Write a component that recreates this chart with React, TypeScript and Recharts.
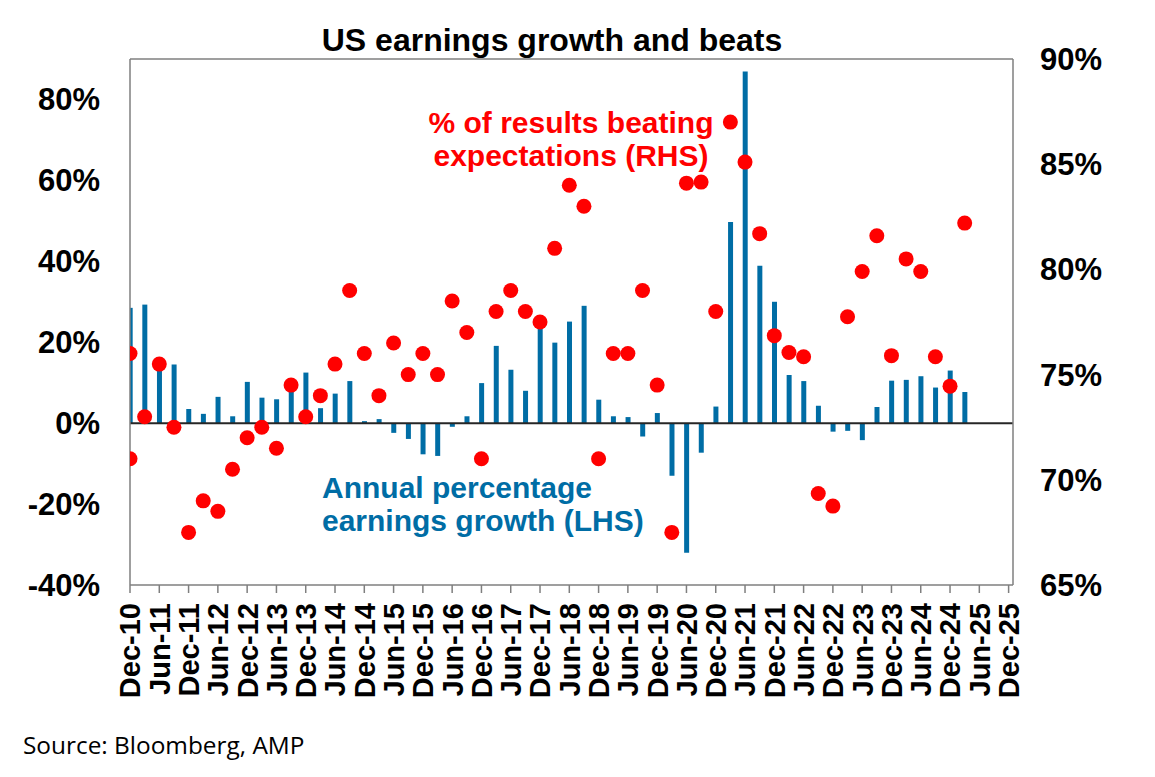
import React from 'react';
import { ComposedChart, Bar, Scatter, XAxis, YAxis, ReferenceLine } from 'recharts';

// quarterly observations, Dec-10 .. Mar-25
const quarters = [
  'Dec-10', 'Mar-11', 'Jun-11', 'Sep-11', 'Dec-11', 'Mar-12', 'Jun-12', 'Sep-12', 'Dec-12',
  'Mar-13', 'Jun-13', 'Sep-13', 'Dec-13', 'Mar-14', 'Jun-14', 'Sep-14', 'Dec-14',
  'Mar-15', 'Jun-15', 'Sep-15', 'Dec-15', 'Mar-16', 'Jun-16', 'Sep-16', 'Dec-16',
  'Mar-17', 'Jun-17', 'Sep-17', 'Dec-17', 'Mar-18', 'Jun-18', 'Sep-18', 'Dec-18',
  'Mar-19', 'Jun-19', 'Sep-19', 'Dec-19', 'Mar-20', 'Jun-20', 'Sep-20', 'Dec-20',
  'Mar-21', 'Jun-21', 'Sep-21', 'Dec-21', 'Mar-22', 'Jun-22', 'Sep-22', 'Dec-22',
  'Mar-23', 'Jun-23', 'Sep-23', 'Dec-23', 'Mar-24', 'Jun-24', 'Sep-24', 'Dec-24', 'Mar-25',
];

// annual % earnings growth (LHS)
const earningsGrowth = [
  28.5, 29.3, 13.5, 14.5, 3.5, 2.3, 6.5, 1.7, 10.2,
  6.3, 5.9, 8.5, 12.5, 3.7, 7.3, 10.4, 0.5,
  1.0, -2.4, -3.9, -7.7, -8.1, -0.9, 1.7, 9.9,
  19.1, 13.2, 8.0, 24.0, 19.9, 25.1, 29.0, 5.8,
  1.7, 1.5, -3.3, 2.5, -13.0, -32.0, -7.3, 4.1,
  49.7, 86.9, 38.9, 30.0, 11.9, 10.4, 4.3, -2.1,
  -1.9, -4.2, 4.0, 10.5, 10.7, 11.6, 8.8, 13.0, 7.7,
];

// % of results beating expectations (RHS)
const beatPct = [
  76, 73, 75.5, 72.5, 67.5, 69, 68.5, 70.5, 72,
  72.5, 71.5, 74.5, 73, 74, 75.5, 79, 76,
  74, 76.5, 75, 76, 75, 78.5, 77, 71,
  78, 79, 78, 77.5, 81, 84, 83, 71,
  76, 76, 79, 74.5, 67.5, 84.1, 84.15, 78,
  87, 85.1, 81.7, 76.85, 76.05, 75.85, 69.35, 68.75,
  77.75, 79.9, 81.6, 75.9, 80.5, 79.9, 75.85, 74.45, 82.2,
];
// an earlier reading that sits on the Dec-10 date as well
const beatExtra = [{ quarter: 'Dec-10', value: 71 }];

const tickLabels = [
  'Dec-10', 'Jun-11', 'Dec-11', 'Jun-12', 'Dec-12', 'Jun-13', 'Dec-13', 'Jun-14',
  'Dec-14', 'Jun-15', 'Dec-15', 'Jun-16', 'Dec-16', 'Jun-17', 'Dec-17', 'Jun-18',
  'Dec-18', 'Jun-19', 'Dec-19', 'Jun-20', 'Dec-20', 'Jun-21', 'Dec-21', 'Jun-22',
  'Dec-22', 'Jun-23', 'Dec-23', 'Jun-24', 'Dec-24', 'Jun-25', 'Dec-25',
];
const leftTicks = [-40, -20, 0, 20, 40, 60, 80];
const rightTicks = [65, 70, 75, 80, 85, 90];

const FONT = '"Liberation Sans", Arial, sans-serif';
const BLUE = '#006DA5';
const RED = '#FF0000';
const AXIS = '#7F7F7F';

const growthData = quarters.map((q, i) => ({ x: i, quarter: q, growth: earningsGrowth[i] }));
const beatData = [
  ...beatExtra.map((b) => ({ x: quarters.indexOf(b.quarter), beat: b.value })),
  ...quarters.map((q, i) => ({ x: i, beat: beatPct[i] })),
];

const XTick = (props: any) => {
  const { x, y, payload } = props;
  return (
    <text
      x={x}
      y={y}
      transform={`rotate(-90 ${x} ${y})`}
      textAnchor="end"
      dy="0.36em"
      fontFamily={FONT}
      fontWeight="bold"
      fontSize={29}
      fill="#000"
    >
      {tickLabels[Math.round(payload.value / 2)]}
    </text>
  );
};

const Dot = (props: any) => <circle cx={props.cx} cy={props.cy} r={7.5} fill={RED} />;

export default function App() {
  return (
    <div style={{ position: 'relative', width: 1139, height: 761, background: '#fff', fontFamily: FONT }}>
      <ComposedChart
        width={1139}
        height={761}
        data={growthData}
        margin={{ top: 51, right: 14, bottom: 74, left: 12 }}
      >
        <XAxis
          dataKey="x"
          type="number"
          domain={[0, 60.3]}
          ticks={tickLabels.map((_, i) => i * 2)}
          interval={0}
          height={110}
          tick={<XTick />}
          tickSize={8}
          tickMargin={10}
          tickLine={{ stroke: AXIS, strokeWidth: 1.5 }}
          axisLine={{ stroke: AXIS, strokeWidth: 1.5 }}
          allowDataOverflow
        />
        <YAxis
          yAxisId="left"
          domain={[-40, 90]}
          ticks={leftTicks}
          interval={0}
          width={110}
          tickSize={0}
          tickMargin={30}
          tickFormatter={(v) => `${v}%`}
          tick={{ fill: '#000', fontSize: 31, fontWeight: 'bold', fontFamily: FONT }}
          axisLine={{ stroke: AXIS, strokeWidth: 1.5 }}
          tickLine={false}
          allowDataOverflow
        />
        <YAxis
          yAxisId="right"
          orientation="right"
          domain={[65, 90]}
          ticks={rightTicks}
          interval={0}
          width={120}
          tickSize={0}
          tickMargin={27}
          tickFormatter={(v) => `${v}%`}
          tick={{ fill: '#000', fontSize: 31, fontWeight: 'bold', fontFamily: FONT }}
          axisLine={{ stroke: AXIS, strokeWidth: 1.5 }}
          tickLine={false}
          allowDataOverflow
        />
        <ReferenceLine yAxisId="left" y={90} stroke={AXIS} strokeWidth={1.5} />
        <Bar
          yAxisId="left"
          dataKey="growth"
          fill={BLUE}
          barSize={5}
          isAnimationActive={false}
        />
        <ReferenceLine yAxisId="left" y={0} stroke="#262626" strokeWidth={2} />
        <Scatter
          yAxisId="right"
          data={beatData}
          dataKey="beat"
          shape={<Dot />}
          isAnimationActive={false}
        />
      </ComposedChart>

      <div style={{ position: 'absolute', left: 244, width: 600, top: 14, textAlign: 'center', fontSize: 32, lineHeight: '36px', fontWeight: 'bold', color: '#000' }}>
        US earnings growth and beats
      </div>
      <div style={{ position: 'absolute', left: 363, width: 400, top: 98, textAlign: 'center', fontSize: 30, lineHeight: '33px', fontWeight: 'bold', color: RED }}>
        % of results beating
        <br />
        expectations (RHS)
      </div>
      <div style={{ position: 'absolute', left: 314, top: 463, fontSize: 30, lineHeight: '33px', fontWeight: 'bold', color: BLUE, whiteSpace: 'nowrap' }}>
        Annual percentage
        <br />
        earnings growth (LHS)
      </div>
      <div style={{ position: 'absolute', left: 15, top: 722, fontSize: 24.4, lineHeight: '30px', fontFamily: '"Open Sans", Lato, sans-serif', color: '#000' }}>
        Source: Bloomberg, AMP
      </div>
    </div>
  );
}
